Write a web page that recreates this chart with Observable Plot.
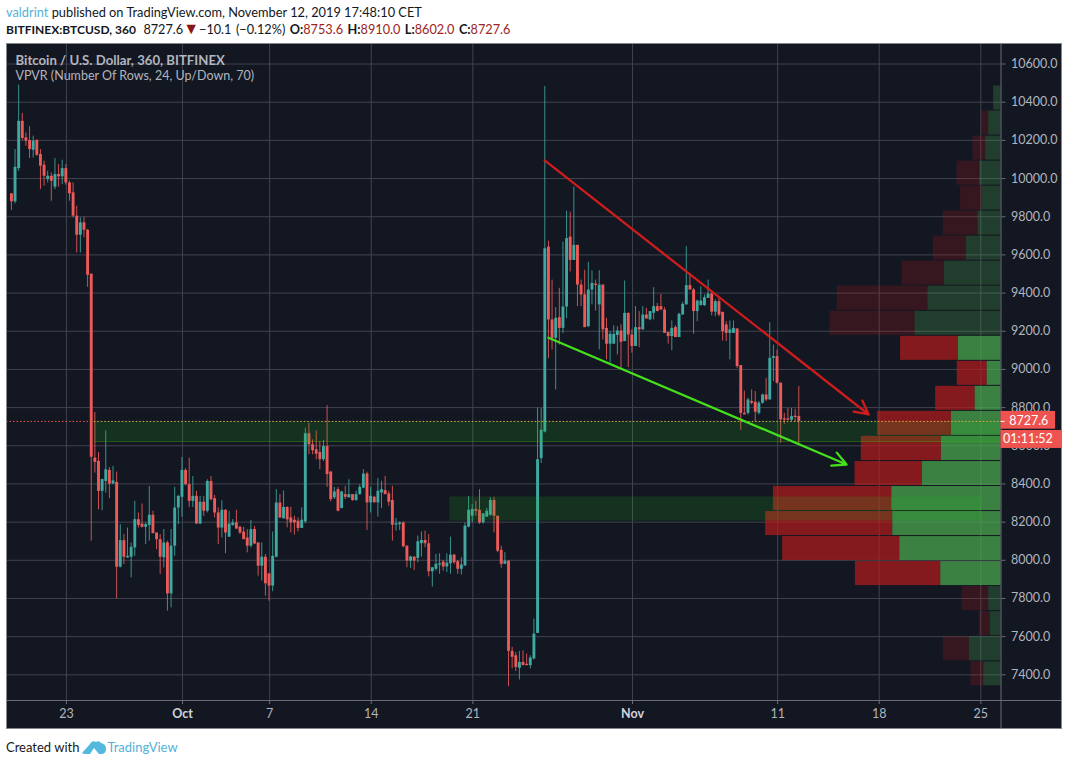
<!DOCTYPE html>
<html><head><meta charset="utf-8">
<script src="https://cdn.jsdelivr.net/npm/d3@7"></script>
<script src="https://cdn.jsdelivr.net/npm/@observablehq/plot@0.6"></script>
<style>
html,body{margin:0;padding:0;background:#fff;overflow:hidden;font-family:Lato,"Noto Sans",sans-serif}
#head{height:43px;box-sizing:border-box;padding:4px 0 0 6px;font-size:12.8px;line-height:17px;color:#131722;white-space:nowrap}
#head .u{color:#53b1d8}
#head .r{color:#9c2424}
#head .l2{font-size:12.7px;word-spacing:1.2px}
#head .tri{color:#8b1414;font-size:16px;line-height:12px}
#head b{font-weight:700;font-size:12.7px}
#head b.sym{font-size:12px;word-spacing:0;margin-right:3px}
#chart{margin-left:6px;height:686px}
#chart svg{display:block;outline:1px solid #85878f;outline-offset:-1px}
#foot{height:36px;padding:0 0 0 6px;box-sizing:border-box;font-size:13px;line-height:20px;color:#131722;display:flex;align-items:center}
#foot .tv{color:#53b1d8}
#foot svg{margin:0 1px 0 3px}
</style></head><body>
<div id="head">
<div><span class="u">valdrint</span> published on TradingView.com, November 12, 2019 17:48:10 CET</div>
<div class="l2"><b class="sym">BITFINEX:BTCUSD, 360</b>&nbsp;8727.6<span class="tri">▼</span>−10.1 (−0.12%) <b>O:</b><span class="r">8753.6</span> <b>H:</b><span class="r">8910.0</span> <b>L:</b><span class="r">8602.0</span> <b>C:</b><span class="r">8727.6</span></div>
</div>
<div id="chart"></div>
<div id="foot">Created with<svg width="24" height="15" viewBox="0 0 24 15"><path d="M0 13 L8 4 Q10 0 14 2 Q17 0 19 3 Q24 4 24 9 Q24 14 19 14 L17 14 L12 8 L8 14 L2 14 Z" fill="#53b9dd"/></svg><span class="tv">TradingView</span></div>
<script>
// Six-hour candles, last bar 2019-11-12 afternoon UTC
const opens = [
9920,9878,10052,10300,10213,10199,10148,10199,10126,10070,
9995,10012,9955,10021,10009,10052,9977,9925,9803,9703,
9768,9729,9499,8535,8518,8361,8413,8471,8399,8408,
7964,8103,8013,8016,8065,8213,8190,8173,8183,8236,
8143,8108,8013,8091,7824,8074,8274,8330,8471,8396,
8309,8335,8190,8304,8257,8413,8323,8248,8169,8262,
8121,8183,8196,8173,8148,8117,8074,8161,8091,7969,
8016,7929,7865,8016,8300,8218,8277,8222,8210,8205,
8167,8201,8663,8605,8579,8565,8527,8596,8462,8327,
8370,8271,8344,8327,8344,8313,8344,8378,8452,8301,
8330,8301,8353,8365,8348,8313,8184,8187,8196,8074,
7996,8017,8010,8087,8104,8087,7940,7953,7975,7991,
7965,7982,8027,7993,7953,7970,8174,8231,8266,8262,
8196,8226,8236,8313,8231,8052,7979,7996,7523,7500,
7434,7465,7455,7448,7483,7617,8533,8672,9641,9259,
9163,9271,9215,9327,9693,9571,9650,9442,9390,9224,
9416,9447,9338,9442,9215,9132,9132,9178,9201,9146,
9294,9180,9120,9219,9207,9285,9260,9294,9329,9329,
9311,9194,9172,9219,9167,9285,9338,9439,9416,9303,
9334,9334,9372,9395,9300,9355,9299,9233,9189,9189,
9212,9020,8770,8770,8832,8828,8770,8823,8866,8840,
9058,9067,8928,8741,8741,8734,8755,8753.6];
const highs = [
9920,10152,10489,10341,10239,10271,10222,10204,10152,10091,
10038,10030,10105,10073,10096,10073,9986,9977,9855,9794,
9797,9733,9499,8774,8565,8425,8678,8486,8492,8462,
8187,8135,8169,8091,8309,8248,8295,8196,8387,8257,
8143,8135,8161,8100,8161,8382,8340,8539,8480,8535,
8439,8361,8335,8335,8422,8439,8340,8274,8312,8265,
8257,8213,8262,8178,8173,8161,8209,8178,8091,8091,
8030,7929,8148,8370,8344,8363,8280,8278,8231,8222,
8275,8692,8718,8631,8678,8623,8628,8810,8466,8382,
8382,8362,8388,8422,8344,8362,8396,8475,8462,8382,
8335,8428,8414,8440,8361,8388,8219,8201,8201,8074,
8022,8017,8127,8149,8153,8135,7961,8031,8034,7999,
8034,8121,8031,7999,8014,8196,8335,8292,8309,8370,
8245,8271,8327,8330,8231,8074,8040,7996,7544,7517,
7523,7526,7509,7500,7692,8797,8795,10482,9672,9468,
9324,9425,9667,9829,9824,9955,9650,9468,9519,9561,
9516,9468,9517,9442,9268,9198,9229,9224,9233,9463,
9294,9207,9329,9303,9329,9320,9303,9428,9346,9393,
9324,9194,9254,9229,9294,9352,9643,9503,9425,9364,
9433,9390,9468,9411,9364,9381,9299,9250,9254,9254,
9212,9020,8887,8849,8893,8884,8832,8871,8954,9245,
9128,9102,8928,8770,8796,8796,8791,8910];
const lows = [
9832,9867,10038,10199,10169,10105,10108,10117,9942,9960,
9977,9881,9942,9955,9968,9965,9881,9794,9610,9610,
9689,9430,8100,8457,8265,8260,8352,8323,8399,7798,
7960,7978,8010,7908,8021,8169,8169,8082,8100,8138,
8056,7926,7960,7734,7751,8021,8187,8225,8390,8277,
8277,8187,8187,8230,8248,8312,8222,8082,8117,8034,
8121,8178,8161,8135,8108,8039,8065,8082,7917,7891,
7812,7786,7835,8013,8218,8216,8170,8144,8132,8149,
8167,8191,8553,8553,8527,8475,8518,8382,8306,8318,
8254,8271,8318,8327,8309,8309,8341,8375,8156,8248,
8301,8226,8271,8344,8283,8100,8153,8156,8066,7961,
7958,7947,7987,8017,8066,7913,7860,7944,7927,7944,
7936,7927,7979,7927,7923,7970,8170,8196,8231,8188,
8190,8226,8231,8144,8040,7958,7979,7338,7431,7418,
7373,7448,7448,7431,7478,7617,8507,8667,9056,9102,
8893,9128,9187,9266,9510,9571,9329,9329,9219,9219,
9338,9306,9102,9154,9050,9033,9184,9076,9006,9146,
9010,9085,9120,9114,9207,9264,9255,9259,9303,9311,
9189,9133,9098,9167,9167,9285,9338,9416,9184,9250,
9334,9330,9372,9280,9276,9276,9149,9146,9050,9189,
9005,8680,8762,8761,8815,8727,8761,8818,8832,8840,
8936,8923,8613,8713,8730,8725,8725,8602];
const closes = [
9878,10059,10300,10210,10196,10152,10196,10122,10065,10012,
10012,9986,10021,10009,10052,9977,9920,9803,9703,9768,
9729,9493,8540,8513,8361,8423,8474,8399,8416,7964,
8103,8016,8021,8068,8213,8183,8173,8187,8236,8140,
8108,8016,8091,7824,8074,8274,8335,8471,8396,8309,
8335,8190,8304,8257,8413,8317,8248,8169,8262,8143,
8190,8196,8164,8143,8108,8074,8161,8086,7969,8016,
7877,7865,8021,8300,8222,8277,8212,8196,8196,8167,
8210,8663,8605,8574,8556,8527,8596,8449,8318,8358,
8257,8358,8330,8344,8313,8344,8382,8452,8301,8335,
8301,8362,8370,8344,8304,8184,8191,8195,8071,7996,
8017,7996,8097,8104,8087,7940,7961,7979,7982,7965,
7985,8027,7987,7953,7975,8179,8262,8266,8257,8196,
8243,8257,8313,8231,8048,7979,7996,7523,7492,7439,
7465,7448,7448,7488,7613,8527,8681,9632,9259,9163,
9268,9215,9327,9685,9571,9650,9442,9390,9219,9416,
9451,9440,9442,9207,9132,9184,9184,9201,9142,9294,
9180,9120,9219,9207,9285,9264,9303,9329,9303,9311,
9189,9172,9215,9167,9289,9341,9439,9416,9303,9358,
9358,9376,9395,9300,9355,9285,9198,9189,9207,9215,
9015,8770,8762,8840,8823,8776,8823,8866,8840,9058,
9067,8928,8736,8734,8734,8753,8748,8727.6];

// Volume profile, 24 rows from the top; edges are prices
const rowEdges = [10488,10356,10225,10094,9963,9832,9701,9570,9439,9307,9176,9045,8914,8783,8652,8520,8389,8258,8127,7996,7865,7734,7602,7471,7340];
const upVolume = [7.3,12.3,15.3,21.3,19,23,34.7,56.7,73,86,42.7,14,26,49.7,59.7,78.7,109.3,108.3,101.3,60.3,12.3,10.7,31.7,17.3];
const downVolume = [0,7.3,12.7,22.7,21.3,34.7,33,42,90.7,85,57.7,29.7,39.3,73.7,80,67.3,118.3,127,117,85.3,26.7,11,26,12.7];
const valueAreaRows = [10,11,12,13,14,15,16,17,18,19];

const priceTicks = [7400,7600,7800,8000,8200,8400,8600,8800,9000,9200,9400,9600,9800,10000,10200,10400,10600];
const timeTicks = ["2019-09-23","2019-10-01","2019-10-07","2019-10-14","2019-10-21","2019-11-01","2019-11-11","2019-11-18","2019-11-25"];
const timeLabels = ["23","Oct","7","14","21","Nov","11","18","25"];

const trendStart = ["2019-10-25T22:50Z","2019-10-26T05:00Z"];
const trendEnd = ["2019-11-17T06:30Z","2019-11-15T18:00Z"];
const trendFrom = [10095,9166];
const trendTo = [8764,8502];

const zoneStart = ["2019-09-24T22:00Z","2019-10-19T10:00Z"];
const zoneEnd = ["2019-11-26T09:00Z","2019-11-25T01:00Z"];
const zoneTop = [8727.6,8332];
const zoneBottom = [8622,8206];

const lastPrice = 8727.6;
const up = "#3fa8a0", down = "#ec5a5a";

const firstBar = Date.UTC(2019,8,19,5);
const hour6 = 6*36e5, day = 864e5;
const candles = opens.map((o,i)=>({date:new Date(firstBar+i*hour6),o,h:highs[i],l:lows[i],c:closes[i]}));
const origin = Date.UTC(2019,8,23);
const dayDate = d => new Date(origin + d*day);
const xMin = dayDate(-4.13), xMax = dayDate(64.39);
const yMin = 7265.5, yMax = 10707.5;
const volumeScale = 1/14.514;              // profile unit, in days of x-axis
const volDate = v => new Date(+xMax - v*volumeScale*day);

const rows = upVolume.map((u,i)=>({top:rowEdges[i],bottom:rowEdges[i+1],up:u,down:downVolume[i],bright:valueAreaRows.includes(i)}));
const trends = trendStart.map((s,i)=>({x1:new Date(s),x2:new Date(trendEnd[i]),y1:trendFrom[i],y2:trendTo[i]}));
const zones = zoneStart.map((s,i)=>({x1:new Date(s),x2:new Date(zoneEnd[i]),y1:zoneTop[i],y2:zoneBottom[i]}));
const tickDates = timeTicks.map(d=>new Date(d+"T00:00Z"));
const labelOf = d => timeLabels[tickDates.findIndex(t=>+t===+d)];
const isMonth = d => /[A-Za-z]/.test(labelOf(d));
const priceBoxEnd = dayDate(68.15), clockBoxEnd = dayDate(68.6), labelX = dayDate(64.95);

const chart = Plot.plot({
  width:1056, height:686,
  marginLeft:0, marginRight:61.5, marginTop:0, marginBottom:29,
  style:{background:"#131722",color:"#b2b5be",fontFamily:"Lato, 'Noto Sans', sans-serif",fontSize:"12.5px"},
  x:{type:"utc",domain:[xMin,xMax],axis:null},
  y:{domain:[yMin,yMax],axis:null},
  color:{type:"identity"},
  marks:[
    Plot.gridY(priceTicks,{stroke:"#40434f",strokeOpacity:1}),
    Plot.gridX(tickDates,{stroke:"#40434f",strokeOpacity:1}),
    Plot.ruleY([lastPrice],{x1:xMin,x2:zones[0].x1,stroke:"#ef5350",strokeDasharray:"1.5,2"}),
    Plot.ruleX(candles,{x:"date",y1:"l",y2:"h",stroke:d=>d.c>=d.o?up:down,strokeWidth:1,strokeOpacity:0.85}),
    Plot.ruleX(candles,{x:"date",y1:"o",y2:"c",stroke:d=>d.c>=d.o?up:down,strokeWidth:2.9}),
    Plot.rect(rows,{x1:d=>xMax,x2:d=>volDate(d.up),y1:"top",y2:"bottom",fill:"#4caf50",fillOpacity:d=>d.bright?0.7:0.25,insetTop:0.5,insetBottom:0.5}),
    Plot.rect(rows,{x1:d=>volDate(d.up),x2:d=>volDate(d.up+d.down),y1:"top",y2:"bottom",fill:"#b71c1c",fillOpacity:d=>d.bright?0.7:0.22,insetTop:0.5,insetBottom:0.5}),
    Plot.rect(zones,{x1:"x1",x2:"x2",y1:"y1",y2:"y2",fill:"#28c020",fillOpacity:0.16}),
    Plot.ruleY([zoneBottom[0]],{x1:zones[0].x1,x2:zones[0].x2,stroke:"#3cc800",strokeOpacity:0.4}),
    Plot.ruleY([lastPrice],{x1:zones[0].x1,x2:xMax,stroke:"#e0b040",strokeDasharray:"1.5,2"}),
    Plot.arrow(trends.slice(0,1),{x1:"x1",y1:"y1",x2:"x2",y2:"y2",stroke:"#cf1c1c",strokeWidth:2.3,headLength:10,headAngle:55}),
    Plot.arrow(trends.slice(1),{x1:"x1",y1:"y1",x2:"x2",y2:"y2",stroke:"#44e01c",strokeWidth:2.3,headLength:10,headAngle:55}),
    Plot.ruleX([xMax],{y1:yMin-150,y2:yMax,stroke:"#6a6d78"}),
    Plot.ruleY([yMin],{x1:xMin,x2:clockBoxEnd,stroke:"#6a6d78"}),
    Plot.axisY(priceTicks,{anchor:"right",tickSize:4,tickPadding:6,tickFormat:d=>d.toFixed(1),label:null,stroke:"#6a6d78",fill:"#b2b5be"}),
    Plot.axisX(tickDates.filter(d=>!isMonth(d)),{anchor:"bottom",tickSize:4,tickPadding:5,tickFormat:labelOf,label:null,stroke:"#6a6d78",fill:"#b2b5be"}),
    Plot.axisX(tickDates.filter(isMonth),{anchor:"bottom",tickSize:4,tickPadding:5,tickFormat:labelOf,label:null,stroke:"#6a6d78",fill:"#d1d4dc",fontWeight:700}),
    Plot.rect([lastPrice],{x1:xMax,x2:priceBoxEnd,y1:8780,y2:8687,fill:"#ef5350"}),
    Plot.rect([lastPrice],{x1:xMax,x2:clockBoxEnd,y1:8680,y2:8586,fill:"#ef5350"}),
    Plot.ruleY([lastPrice],{x1:xMax,x2:dayDate(64.67),stroke:"#fff"}),
    Plot.text(["8727.6"],{x:labelX,y:lastPrice,text:d=>d,fill:"#fff",textAnchor:"start"}),
    Plot.text(["01:11:52"],{x:dayDate(64.53),y:8633,text:d=>d,fill:"#fff",textAnchor:"start"}),
    Plot.text(["Bitcoin / U.S. Dollar, 360, BITFINEX"],{frameAnchor:"top-left",dx:9,dy:12,text:d=>d,fill:"#b2b5be",fontWeight:700,fontSize:13.2}),
    Plot.text(["VPVR (Number Of Rows, 24, Up/Down, 70)"],{frameAnchor:"top-left",dx:9,dy:28,text:d=>d,fill:"#b2b5be",fontSize:12.5})
  ]
});
document.getElementById("chart").appendChild(chart);
</script>
</body></html>
